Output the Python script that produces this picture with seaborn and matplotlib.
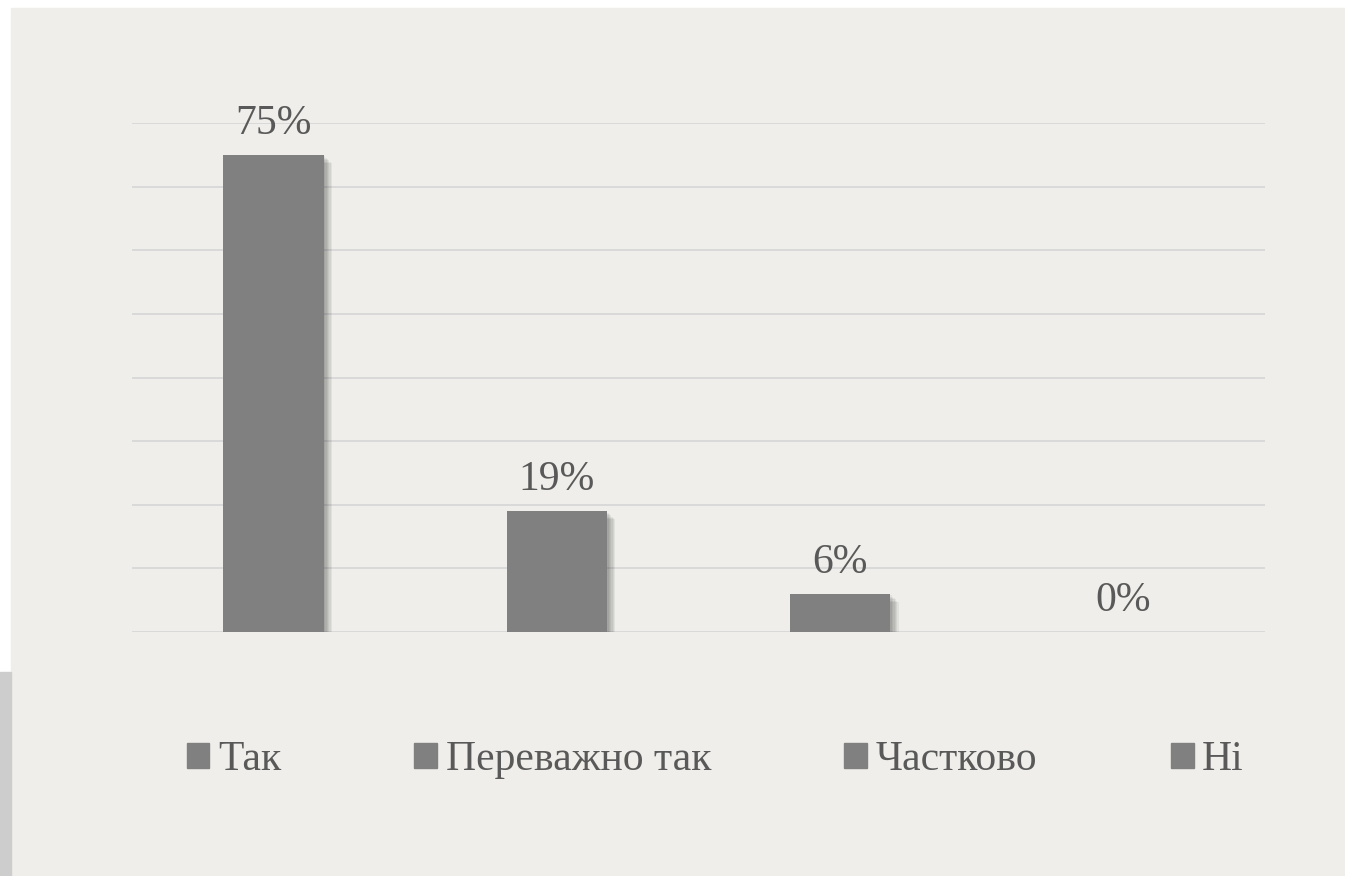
import seaborn as sns
import matplotlib.pyplot as plt
import matplotlib.patheffects as pe
from matplotlib.patches import Rectangle
import pandas as pd

# Дані з діаграми
categories = ['Так', 'Переважно так', 'Частково', 'Ні']
values = [75, 19, 6, 0]
labels = ['75%', '19%', '6%', '0%']

bar_color = '#808080'
text_color = '#595959'
bg_color = '#EFEEEA'

sns.set_style('white')
plt.rcParams['font.family'] = ['Liberation Serif', 'DejaVu Serif']

df = pd.DataFrame({'cat': categories, 'val': values})

fig = plt.figure(figsize=(13.45, 8.76), dpi=100, facecolor='white')
# beige panel + grey strip at the bottom-left edge
fig.add_artist(Rectangle((11 / 1345, 0), 1 - 11 / 1345, 1 - 8 / 876,
                         transform=fig.transFigure, color=bg_color, zorder=-10))
fig.add_artist(Rectangle((0, 0), 11 / 1345, (876 - 672) / 876,
                         transform=fig.transFigure, color='#CDCDCD', zorder=-10))

ax = fig.add_axes([132 / 1345, (876 - 632) / 876, (1265 - 132) / 1345, (632 - 123) / 876])
ax.set_facecolor('none')

sns.barplot(data=df, x='cat', y='val', hue='cat', palette=[bar_color] * 4,
            width=0.355, dodge=False, legend=False, ax=ax, zorder=3)

shadow = [pe.SimplePatchShadow(offset=(d, -d), shadow_rgbFace='black', alpha=0.06)
          for d in (1, 2, 3, 4, 5, 6)] + [pe.Normal()]
for p in ax.patches:
    p.set_path_effects(shadow)
    p.set_edgecolor('none')

ax.set_ylim(0, 80)
ax.set_xlim(-0.5, 3.5)
ax.set_yticks(range(0, 81, 10))
ax.yaxis.grid(True, color='#D9D9D9', linewidth=1.4, zorder=0)
ax.set_axisbelow(True)
ax.set_yticklabels([])
ax.set_xticks([])
ax.set_xlabel('')
ax.set_ylabel('')
ax.tick_params(left=False, bottom=False)
sns.despine(ax=ax, left=True, bottom=True)

for i, (v, lab) in enumerate(zip(values, labels)):
    ax.annotate(lab, (i, v), xytext=(0, 15), textcoords='offset points',
                ha='center', va='baseline', fontsize=30, color=text_color,
                annotation_clip=False)

handles = [Rectangle((0, 0), 1, 1, color=bar_color) for _ in categories]
fig.legend(handles, categories, loc='center', ncol=4, frameon=False,
           bbox_to_anchor=(715 / 1345, 1 - 760 / 876),
           fontsize=30, labelcolor=text_color,
           handlelength=0.55, handleheight=0.55, handletextpad=0.2,
           columnspacing=3.2)

fig.savefig('out.png', dpi=100, facecolor='white')
